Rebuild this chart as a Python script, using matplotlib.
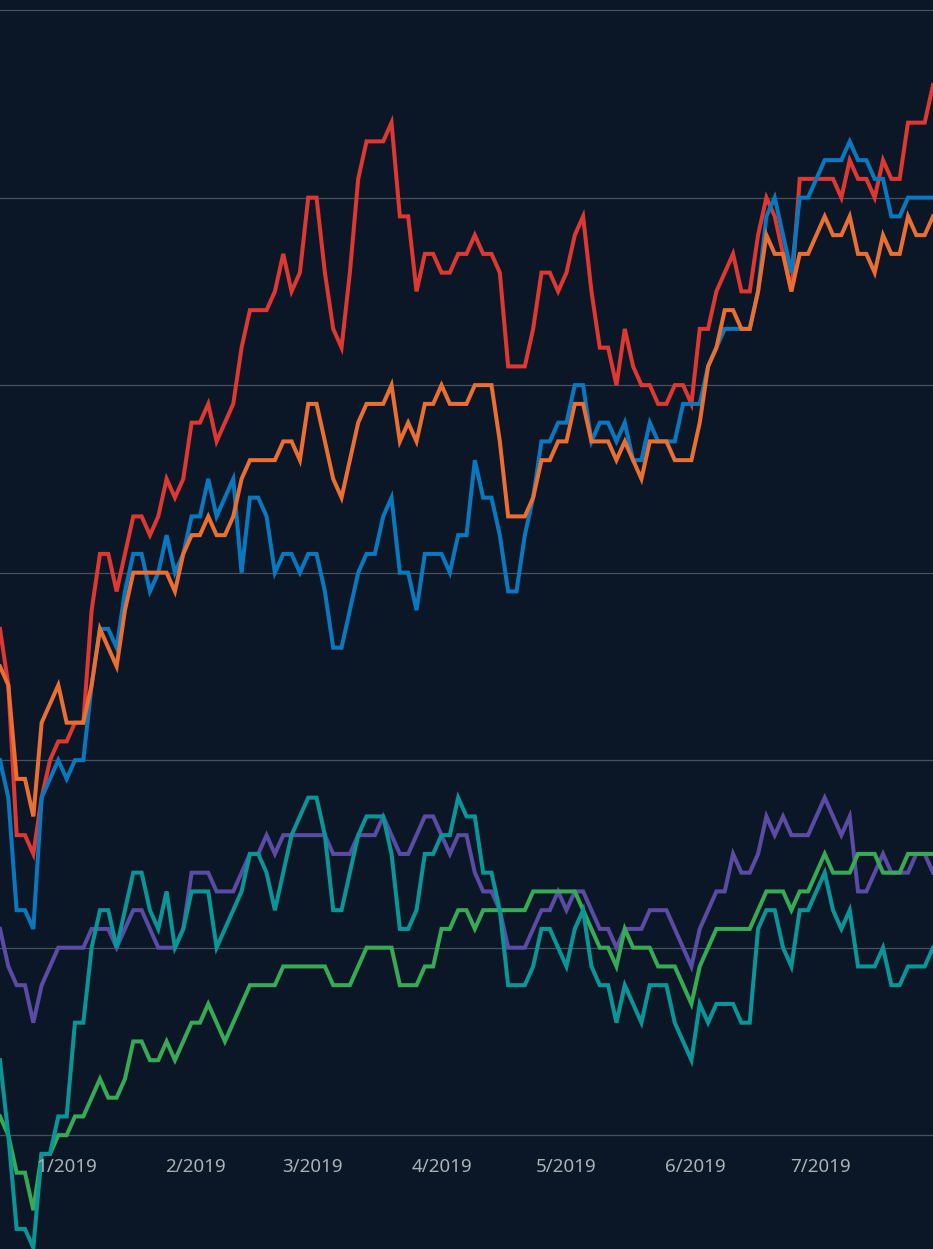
import pandas as pd
import matplotlib
matplotlib.use("Agg")
import matplotlib.pyplot as plt
import matplotlib.transforms as mtransforms

# sample dates (every 2 days)
dates = pd.date_range("2018-12-16", periods=113, freq="2D")

red = [17, 14, 6, 6, 5, 8, 10, 11, 11, 12,
       12, 18, 21, 21, 19, 21, 23, 23, 22, 23,
       25, 24, 25, 28, 28, 29, 27, 28, 29, 32,
       34, 34, 34, 35, 37, 35, 36, 40, 40, 36,
       33, 32, 36, 41, 43, 43, 43, 44, 39, 39,
       35, 37, 37, 36, 36, 37, 37, 38, 37, 37,
       36, 31, 31, 31, 33, 36, 36, 35, 36, 38,
       39, 35, 32, 32, 30, 33, 31, 30, 30, 29,
       29, 30, 30, 29, 33, 33, 35, 36, 37, 35,
       35, 38, 40, 39, 37, 35, 41, 41, 41, 41,
       41, 40, 42, 41, 41, 40, 42, 41, 41, 44,
       44, 44, 46]

orange = [15, 14, 9, 9, 7, 12, 13, 14, 12, 12,
          12, 14, 17, 16, 15, 18, 20, 20, 20, 20,
          20, 19, 21, 22, 22, 23, 22, 22, 23, 25,
          26, 26, 26, 26, 27, 27, 26, 29, 29, 27,
          25, 24, 26, 28, 29, 29, 29, 30, 27, 28,
          27, 29, 29, 30, 29, 29, 29, 30, 30, 30,
          27, 23, 23, 23, 24, 26, 26, 27, 27, 29,
          29, 27, 27, 27, 26, 27, 26, 25, 27, 27,
          27, 26, 26, 26, 28, 31, 32, 34, 34, 33,
          33, 35, 38, 37, 37, 35, 37, 37, 38, 39,
          38, 38, 39, 37, 37, 36, 38, 37, 37, 39,
          38, 38, 39]

blue = [10, 8, 2, 2, 1, 8, 9, 10, 9, 10,
        10, 14, 17, 17, 16, 19, 21, 21, 19, 20,
        22, 20, 21, 23, 23, 25, 23, 24, 25, 20,
        24, 24, 23, 20, 21, 21, 20, 21, 21, 19,
        16, 16, 18, 20, 21, 21, 23, 24, 20, 20,
        18, 21, 21, 21, 20, 22, 22, 26, 24, 24,
        22, 19, 19, 22, 24, 27, 27, 28, 28, 30,
        30, 27, 28, 28, 27, 28, 26, 26, 28, 27,
        27, 27, 29, 29, 29, 31, 32, 33, 33, 33,
        33, 35, 39, 40, 38, 36, 40, 40, 41, 42,
        42, 42, 43, 42, 42, 41, 41, 39, 39, 40,
        40, 40, 40]

purple = [1, -1, -2, -2, -4, -2, -1, 0, 0, 0,
          0, 1, 1, 1, 0, 1, 2, 2, 1, 0,
          0, 0, 1, 4, 4, 4, 3, 3, 3, 4,
          5, 5, 6, 5, 6, 6, 6, 6, 6, 6,
          5, 5, 5, 6, 6, 6, 7, 6, 5, 5,
          6, 7, 7, 6, 5, 6, 6, 4, 3, 3,
          2, 0, 0, 0, 1, 2, 2, 3, 2, 3,
          3, 2, 1, 1, 0, 1, 1, 1, 2, 2,
          2, 1, 0, -1, 1, 2, 3, 3, 5, 4,
          4, 5, 7, 6, 7, 6, 6, 6, 7, 8,
          7, 6, 7, 3, 3, 4, 5, 4, 4, 4,
          5, 5, 4]

green = [-9, -10, -12, -12, -14, -11, -11, -10, -10, -9,
         -9, -8, -7, -8, -8, -7, -5, -5, -6, -6,
         -5, -6, -5, -4, -4, -3, -4, -5, -4, -3,
         -2, -2, -2, -2, -1, -1, -1, -1, -1, -1,
         -2, -2, -2, -1, 0, 0, 0, 0, -2, -2,
         -2, -1, -1, 1, 1, 2, 2, 1, 2, 2,
         2, 2, 2, 2, 3, 3, 3, 3, 3, 3,
         2, 1, 0, 0, -1, 1, 0, 0, 0, -1,
         -1, -1, -2, -3, -1, 0, 1, 1, 1, 1,
         1, 2, 3, 3, 3, 2, 3, 3, 4, 5,
         4, 4, 4, 5, 5, 5, 4, 4, 4, 5,
         5, 5, 5]

teal = [-6, -10, -15, -15, -16, -11, -11, -9, -9, -4,
        -4, 0, 2, 2, 0, 2, 4, 4, 2, 1,
        3, 0, 1, 3, 3, 3, 0, 1, 2, 3,
        5, 5, 4, 2, 4, 6, 7, 8, 8, 6,
        2, 2, 4, 6, 7, 7, 7, 5, 1, 1,
        2, 5, 5, 6, 6, 8, 7, 7, 4, 4,
        2, -2, -2, -2, -1, 1, 1, 0, -1, 1,
        2, -1, -2, -2, -4, -2, -3, -4, -2, -2,
        -2, -4, -5, -6, -3, -4, -3, -3, -3, -4,
        -4, 1, 2, 2, 0, -1, 2, 2, 3, 4,
        2, 1, 2, -1, -1, -1, 0, -2, -2, -1,
        -1, -1, 0]

month_ticks = pd.to_datetime(["2019-01-01", "2019-02-01", "2019-03-01",
                              "2019-04-01", "2019-05-01", "2019-06-01",
                              "2019-07-01"])
month_labels = ["1/2019", "2/2019", "3/2019", "4/2019", "5/2019", "6/2019", "7/2019"]

bg = "#0b1726"
fig = plt.figure(figsize=(9.33, 12.49), dpi=100, facecolor=bg)
ax = fig.add_axes([0, 0, 1, 1], facecolor=bg)

lw = 2.9
ax.plot(dates, purple, color="#5a4ba5", lw=lw, solid_joinstyle="miter")
ax.plot(dates, green, color="#37aa55", lw=lw, solid_joinstyle="miter")
ax.plot(dates, teal, color="#0a9696", lw=lw, solid_joinstyle="miter")
ax.plot(dates, red, color="#de3832", lw=lw, solid_joinstyle="miter")
ax.plot(dates, blue, color="#0a78be", lw=lw, solid_joinstyle="miter")
ax.plot(dates, orange, color="#eb6e32", lw=lw, solid_joinstyle="miter")

ax.set_xlim(dates[0], dates[-1])
ax.set_ylim(-16.07, 50.54)
ax.set_yticks(range(-10, 51, 10))
ax.yaxis.grid(True, color="#46515e", lw=0.9)
ax.set_axisbelow(True)
ax.tick_params(left=False, labelleft=False, bottom=False, labelbottom=False)
for s in ax.spines.values():
    s.set_visible(False)

# month labels sit inside the plot area
trans = mtransforms.blended_transform_factory(ax.transData, ax.transAxes)
for d, lab in zip(month_ticks, month_labels):
    ax.text(d, 0.066, lab, transform=trans, ha="center", va="center",
            color="#a9b1ba", fontsize=13.5, family="Noto Sans")

fig.savefig("out.png", dpi=100, facecolor=bg)
